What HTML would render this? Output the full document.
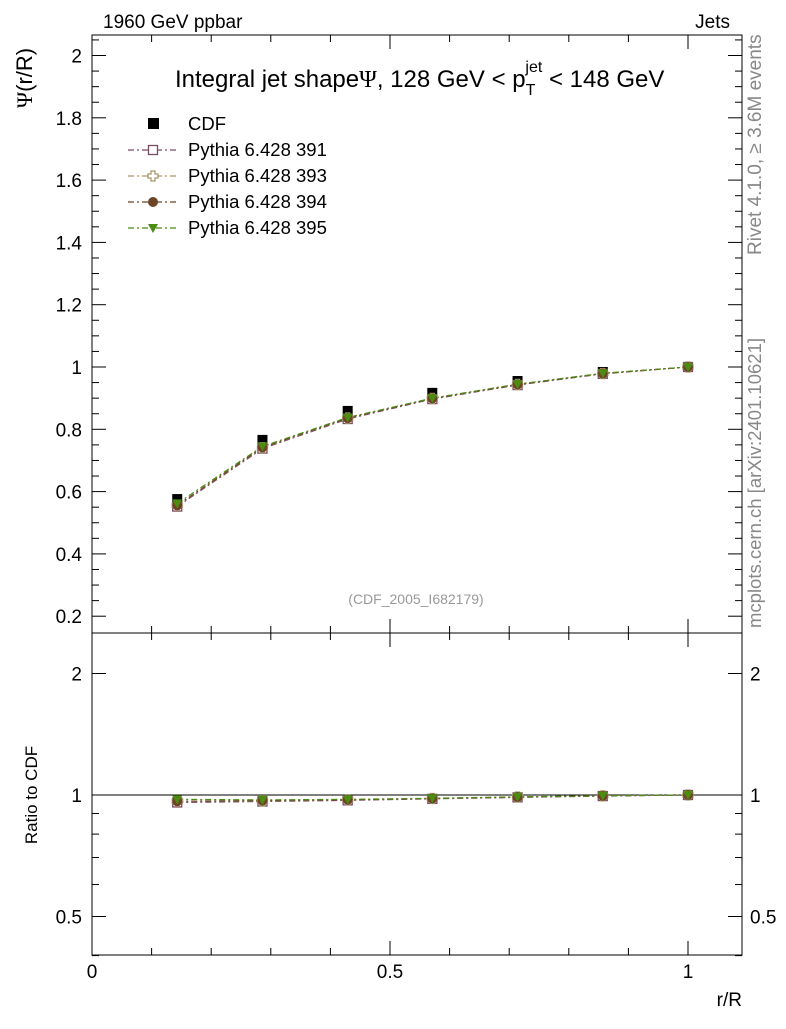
<!DOCTYPE html>
<html><head><meta charset="utf-8"><style>
body{margin:0;background:#fff}
svg text{font-family:"Liberation Sans",sans-serif}
</style></head><body>
<svg id="c" width="786" height="1024" xmlns="http://www.w3.org/2000/svg">
<text x="103" y="28" font-size="19">1960 GeV ppbar</text>
<text x="730" y="28" font-size="19" text-anchor="end">Jets</text>
<text x="175" y="87" font-size="24">Integral jet shape<tspan font-family="Liberation Serif">Ψ</tspan>, 128 GeV &lt; p<tspan font-size="16" dy="8">T</tspan><tspan font-size="16" dx="-10" dy="-23">jet</tspan><tspan dy="15"> &lt; 148 GeV</tspan></text>
<text transform="translate(761,255) rotate(-90)" font-size="19" fill="#888">Rivet 4.1.0, ≥ 3.6M events</text>
<text transform="translate(761,628) rotate(-90)" font-size="18.5" fill="#888">mcplots.cern.ch [arXiv:2401.10621]</text>
<text x="416" y="604" font-size="14" fill="#999" text-anchor="middle">(CDF_2005_I682179)</text>
<text transform="translate(32,78) rotate(-90)" font-size="22" text-anchor="middle"><tspan font-family="Liberation Serif">Ψ</tspan>(r/R)</text>
<text transform="translate(37,795) rotate(-90)" font-size="17" text-anchor="middle">Ratio to CDF</text>
<text x="742" y="1006" font-size="19" text-anchor="end">r/R</text>
<rect x="92" y="35" width="650" height="598" fill="none" stroke="#000"/>
<rect x="92" y="633" width="650" height="322" fill="none" stroke="#000"/>
<g id="g"></g>
</svg>
<script>
const xs=[0.143,0.286,0.429,0.571,0.714,0.857,1.0];
const cdf=[0.576,0.766,0.859,0.917,0.955,0.984,1.0];
const p391=[0.552,0.738,0.833,0.897,0.942,0.978,1.0];
const p393=[0.556,0.741,0.836,0.899,0.944,0.979,1.0];
const p394=[0.556,0.742,0.836,0.899,0.944,0.979,1.0];
const p395=[0.562,0.745,0.838,0.900,0.945,0.980,1.0];
const yTicks=[0.2,0.4,0.6,0.8,1,1.2,1.4,1.6,1.8,2];
const yTickLabels=["0.2","0.4","0.6","0.8","1","1.2","1.4","1.6","1.8","2"];
const xTicks=[0,0.5,1];
const xTickLabels=["0","0.5","1"];
const rTicks=[0.5,1,2];
const rTickLabels=["0.5","1","2"];
const NS="http://www.w3.org/2000/svg";
const g=document.getElementById('g');
const X=v=>92+v*596, Y=v=>367-(v-1)*311.5, R=v=>795-Math.log2(v)*121.5;
function el(t,a,p){const e=document.createElementNS(NS,t);for(const k in a)e.setAttribute(k,a[k]);(p||g).appendChild(e);return e;}
for(let v=0;v<=1.09;v+=0.1){const big=Math.abs(v*2-Math.round(v*2))<1e-6;const L=big?14:7;
 for(const [t,b] of [[35,633],[633,955]]){const t1=el('line',{x1:X(v),x2:X(v),y1:b,y2:b-L,stroke:'#000'});
 const t2=el('line',{x1:X(v),x2:X(v),y1:t,y2:t+L,stroke:'#000'});}}
xTicks.forEach((v,i)=>{const t=el('text',{x:X(v),y:978,'font-size':19,'text-anchor':'middle'});t.textContent=xTickLabels[i];});
for(let k=4;k<=41;k++){const v=k*0.05;if(Y(v)<35||Y(v)>633)continue;const big=k%4==0;const L=big?14:7;
 const a=el('line',{x1:92,x2:92+L,y1:Y(v),y2:Y(v),stroke:'#000'});
 const b=el('line',{x1:742,x2:742-L,y1:Y(v),y2:Y(v),stroke:'#000'});}
yTicks.forEach((v,i)=>{const t=el('text',{x:82,y:Y(v)+7,'font-size':19,'text-anchor':'end'});t.textContent=yTickLabels[i];});
[0.4,0.5,0.6,0.7,0.8,0.9,1,2].forEach(v=>{const big=(v==0.5||v==1||v==2);const L=big?14:7;
 const a=el('line',{x1:92,x2:92+L,y1:R(v),y2:R(v),stroke:'#000'});
 const b=el('line',{x1:742,x2:742-L,y1:R(v),y2:R(v),stroke:'#000'});});
rTicks.forEach((v,i)=>{for(const [x,an] of [[82,'end'],[750,'start']]){const t=el('text',{x:x,y:R(v)+7,'font-size':19,'text-anchor':an});t.textContent=rTickLabels[i];}});
const ref=el('line',{x1:92,x2:742,y1:R(1),y2:R(1),stroke:'#000'});
const series=[[p391,'#7b4a63','sq','391'],[p393,'#a89868','cross','393'],[p394,'#6b4526','circ','394'],[p395,'#4c8c12','tri','395']];
function marker(type,x,y,c,name){let m;
 if(type=='sq')m=el('rect',{x:x-4.5,y:y-4.5,width:9,height:9,fill:'#fff',stroke:c,'stroke-width':1.3});
 else if(type=='cross')m=el('path',{d:`M${x-2},${y-5}h4v3h3v4h-3v3h-4v-3h-3v-4h3z`,fill:'#fff',stroke:c,'stroke-width':1.3});
 else if(type=='circ')m=el('circle',{cx:x,cy:y,r:5,fill:c});
 else m=el('path',{d:`M${x-5},${y-4}h10l-5,9z`,fill:c});
 }
series.forEach(([d,c,mk,n])=>{
 const pts=d.map((v,i)=>X(xs[i])+','+Y(v)).join(' ');
 const l=el('polyline',{points:pts,fill:'none',stroke:c,'stroke-width':1.2,'stroke-dasharray':'6,3,2,3'});
 const rp=d.map((v,i)=>X(xs[i])+','+R(v/cdf[i])).join(' ');
 const l2=el('polyline',{points:rp,fill:'none',stroke:c,'stroke-width':1.2,'stroke-dasharray':'6,3,2,3'});
});
cdf.forEach((v,i)=>{const r=el('rect',{x:X(xs[i])-5,y:Y(v)-5,width:10,height:10,fill:'#000'});});
series.forEach(([d,c,mk,n])=>{d.forEach((v,i)=>{marker(mk,X(xs[i]),Y(v),c,'point-pythia-'+n);marker(mk,X(xs[i]),R(v/cdf[i]),c,'ratio-point-pythia-'+n);});});
const lr=el('rect',{x:148,y:118,width:11,height:11,fill:'#000'});
const lt=el('text',{x:188,y:130,'font-size':18.5});lt.textContent='CDF';
series.forEach(([d,c,mk,n],k)=>{const y=150+k*26;
 const ll=el('line',{x1:128,x2:176,y1:y,y2:y,stroke:c,'stroke-width':1.2,'stroke-dasharray':'6,3,2,3'});
 marker(mk,153,y,c,'legend-marker-'+n);
 const t=el('text',{x:188,y:y+6,'font-size':18.5});t.textContent='Pythia 6.428 '+n;});
</script>
</body></html>
